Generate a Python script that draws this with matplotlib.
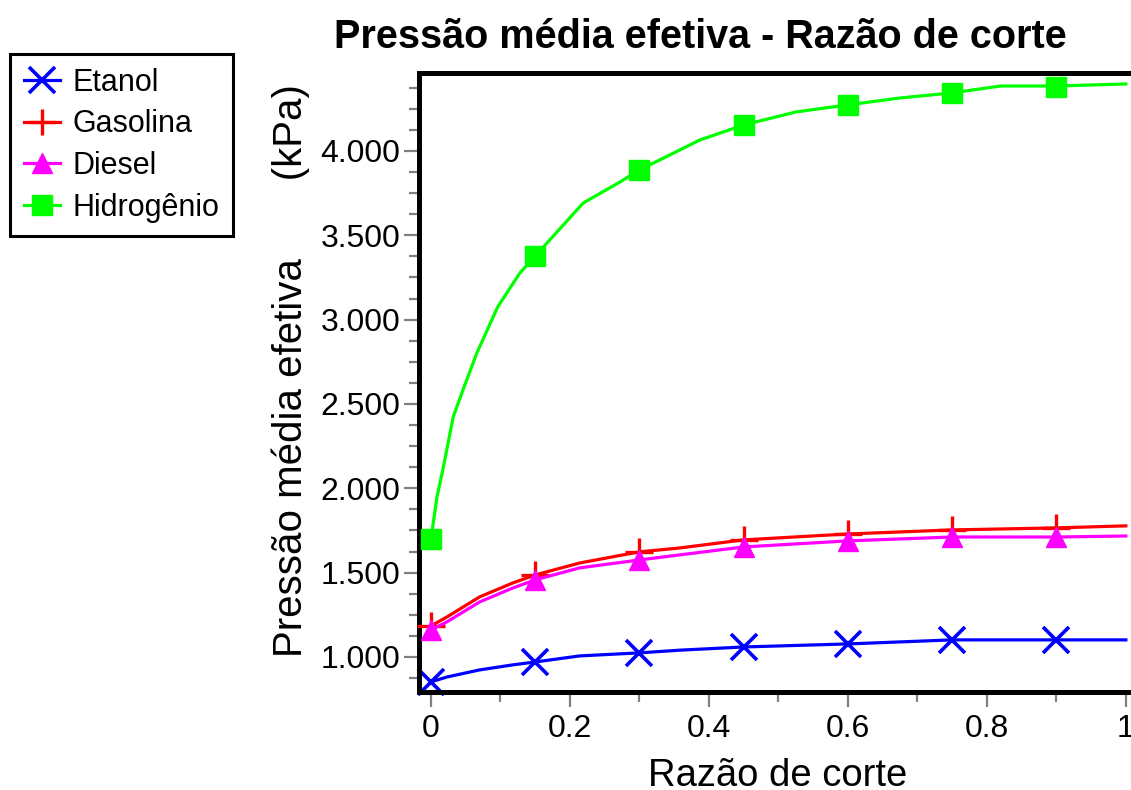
import matplotlib
matplotlib.use("Agg")
import matplotlib.pyplot as plt
from matplotlib.lines import Line2D
from matplotlib.ticker import FixedLocator, MultipleLocator

plt.rcParams['font.family'] = ['Liberation Sans', 'DejaVu Sans']

# ---------------- data ----------------
series_names = ['Etanol', 'Gasolina', 'Diesel', 'Hidrogênio']
series_colors = ['#0000FF', '#FF0000', '#FF00FF', '#00FF00']

# marker positions (razão de corte)
marker_x = [0.0, 0.15, 0.3, 0.45, 0.6, 0.75, 0.9]
etanol_mk = [852, 970, 1024, 1059, 1077, 1101, 1101]
gasolina_mk = [1184, 1486, 1623, 1694, 1729, 1753, 1765]
diesel_mk = [1160, 1457, 1575, 1652, 1688, 1711, 1711]
hidrogenio_mk = [1700, 3377, 3887, 4154, 4273, 4344, 4379]

# line curves
curve_x = [0.0, 0.023, 0.07, 0.118, 0.15, 0.214, 0.3, 0.358, 0.45, 0.6, 0.75, 0.9, 1.0]
etanol_line = [852, 881, 923, 953, 970, 1006, 1024, 1040, 1059, 1077, 1101, 1101, 1101]
gasolina_line = [1184, 1237, 1356, 1439, 1486, 1557, 1623, 1646, 1694, 1729, 1753, 1765, 1777]
diesel_line = [1160, 1208, 1326, 1409, 1457, 1528, 1575, 1605, 1652, 1688, 1711, 1711, 1717]

h2_x = [0.0, 0.0086, 0.017, 0.032, 0.046, 0.066, 0.096, 0.128, 0.15, 0.219, 0.272,
        0.3, 0.387, 0.45, 0.525, 0.6, 0.675, 0.75, 0.82, 0.9, 1.0]
hidrogenio_line = [1700, 1949, 2109, 2423, 2583, 2802, 3075, 3277, 3377, 3691, 3816,
                   3887, 4065, 4154, 4231, 4273, 4314, 4344, 4385, 4385, 4397]

x_ticks = [0, 0.2, 0.4, 0.6, 0.8, 1.0]
x_tick_labels = ['0', '0.2', '0.4', '0.6', '0.8', '1']
y_ticks = [1000, 1500, 2000, 2500, 3000, 3500, 4000]
y_tick_labels = ['1.000', '1.500', '2.000', '2.500', '3.000', '3.500', '4.000']

title = 'Pressão média efetiva - Razão de corte'
xlabel = 'Razão de corte'
ylabel = 'Pressão média efetiva       (kPa)'

# ---------------- figure ----------------
W, H = 1131, 790
fig = plt.figure(figsize=(W / 100, H / 100), dpi=100)
fig.patch.set_facecolor('white')

ax = fig.add_axes([419 / W, 1 - 692 / H, 741.6 / W, (692 - 72.5) / H])
ax.set_xlim(-0.01727, 1.05)
ax.set_ylim(792, 4465)

markers = ['x', '+', '^', 's']
msizes = [19, 20, 15, 14.5]
mews = [2.6, 2.4, 1, 1]

lines_data = [(curve_x, etanol_line), (curve_x, gasolina_line),
              (curve_x, diesel_line), (h2_x, hidrogenio_line)]
mk_data = [etanol_mk, gasolina_mk, diesel_mk, hidrogenio_mk]

for i in range(4):
    lx, ly = lines_data[i]
    ax.plot(lx, ly, color=series_colors[i], lw=2.3, solid_joinstyle='round', zorder=2 + i)
    ax.plot(marker_x, mk_data[i], linestyle='none', marker=markers[i],
            markersize=msizes[i], markeredgewidth=mews[i],
            color=series_colors[i], markerfacecolor=series_colors[i],
            markeredgecolor=series_colors[i], zorder=2 + i, clip_on=False)

for side in ['left', 'bottom', 'top']:
    ax.spines[side].set_linewidth(3.6)
    ax.spines[side].set_color('black')
ax.spines['right'].set_visible(False)

ax.xaxis.set_major_locator(FixedLocator(x_ticks))
ax.set_xticklabels(x_tick_labels)
ax.xaxis.set_minor_locator(MultipleLocator(0.1))
ax.yaxis.set_major_locator(FixedLocator(y_ticks))
ax.set_yticklabels(y_tick_labels)
ax.yaxis.set_minor_locator(MultipleLocator(125))

ax.tick_params(axis='both', which='major', direction='out', length=10.5, width=1.6,
               color='#808080', labelsize=23, pad=3)
ax.tick_params(axis='both', which='minor', direction='out', length=7, width=1.6,
               color='#808080')
ax.tick_params(axis='x', which='major', pad=5)
ax.tick_params(top=False, right=False, which='both')

fig.text(700 / W, 1 - 48 / H, title, ha='center', va='baseline',
         fontsize=28.5, fontweight='bold')
fig.text(778 / W, 1 - 786 / H, xlabel, ha='center', va='baseline', fontsize=27.5)
fig.text(291 / W, 1 - 371 / H, ylabel, ha='center', va='center', rotation=90,
         fontsize=29)

handles = []
for i in range(4):
    handles.append(Line2D([0], [0], color=series_colors[i], lw=2.3, marker=markers[i],
                          markersize=msizes[i] * 0.95, markeredgewidth=mews[i],
                          markerfacecolor=series_colors[i],
                          markeredgecolor=series_colors[i]))
leg = fig.legend(handles, series_names, loc='upper left',
                 bbox_to_anchor=(10 / W, 1 - 54 / H), borderaxespad=0,
                 fontsize=22, labelspacing=0.38, handlelength=1.2,
                 handletextpad=0.4, borderpad=0.45, fancybox=False,
                 framealpha=1, edgecolor='black')
leg.get_frame().set_linewidth(2.2)

fig.savefig('out.png', dpi=100)
